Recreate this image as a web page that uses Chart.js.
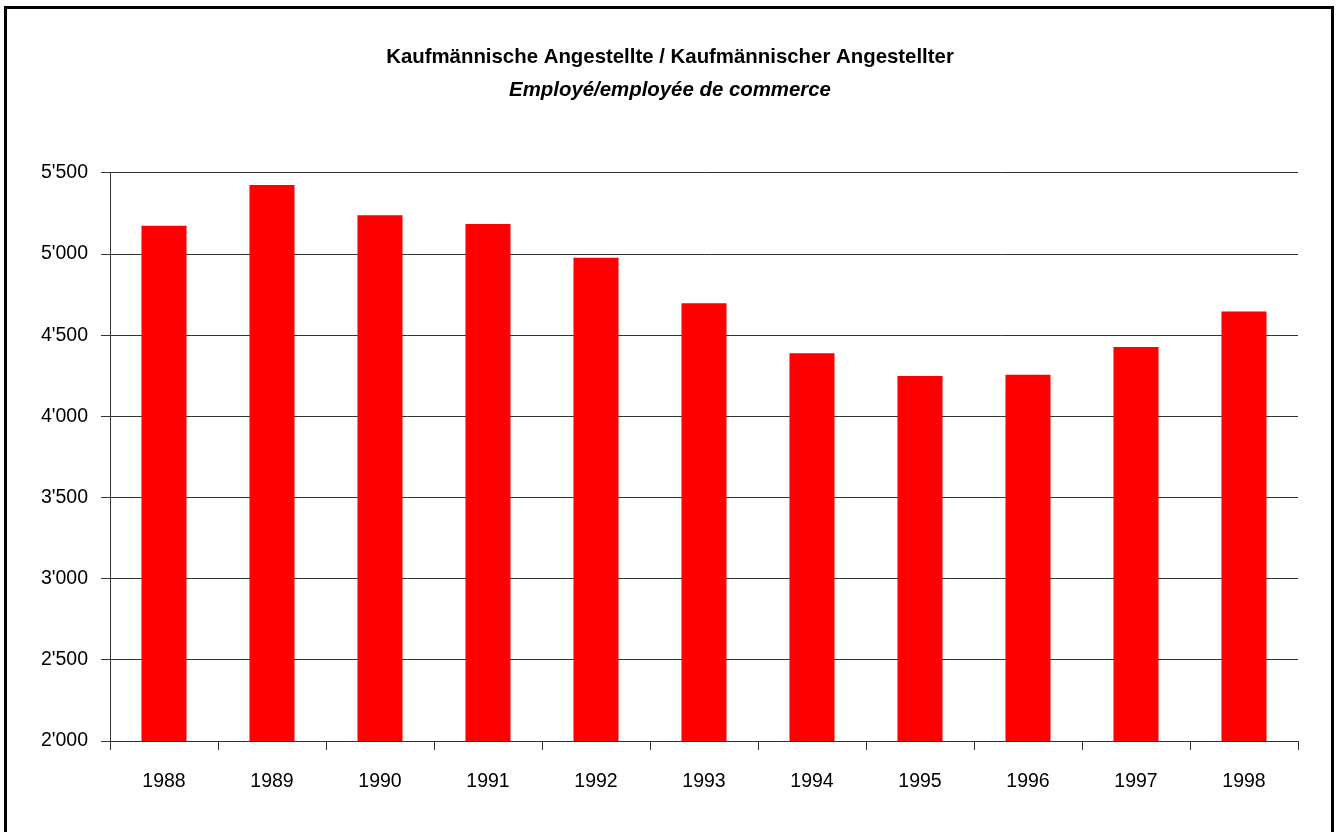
<!DOCTYPE html>
<html>
<head>
<meta charset="utf-8">
<script src="https://cdn.jsdelivr.net/npm/chart.js@4.4.1/dist/chart.umd.min.js"></script>
<style>
  html, body { margin: 0; padding: 0; background: #fff; overflow: hidden; }
  #wrap { position: relative; width: 1340px; height: 832px; }
  #frame { position: absolute; left: 4px; top: 6px; width: 1324px; height: 840px; border: 3px solid #000; pointer-events: none; }
  #chart { position: absolute; left: 0; top: 0; }
</style>
</head>
<body>
<div id="wrap">
  <canvas id="chart" width="1340" height="832"></canvas>
  <div id="frame"></div>
</div>
<script>
// data
const years = ['1988', '1989', '1990', '1991', '1992', '1993', '1994', '1995', '1996', '1997', '1998'];
const employees = [5175, 5426, 5240, 5185, 4977, 4697, 4389, 4249, 4257, 4428, 4646];
const yTicks = [2000, 2500, 3000, 3500, 4000, 4500, 5000, 5500];
const titleText = 'Kaufmännische Angestellte / Kaufmännischer Angestellter';
const subtitleText = 'Employé/employée de commerce';

const fontFamily = '"Liberation Sans Narrow", "Arial Narrow", "Liberation Sans", Arial, sans-serif';

// thousands with an apostrophe, like 5'500
const formatNumber = v => String(v).replace(/\B(?=(\d{3})+(?!\d))/g, "'");

const canvas = document.getElementById('chart');
const context = canvas.getContext('2d');

new Chart(context, {
  type: 'bar',
  data: {
    labels: years,
    datasets: [
      {
        data: employees,
        backgroundColor: '#ff0000',
        borderWidth: 0,
        barPercentage: 0.417,
        categoryPercentage: 1,
        yAxisID: 'y',
      },
    ],
  },
  options: {
    responsive: false,
    animation: false,
    layout: { padding: 0 },
    plugins: {
      legend: { display: false },
      tooltip: { enabled: false },
      title: {
        display: true,
        text: titleText,
        color: '#000',
        font: { family: fontFamily, size: 20.4, weight: 'bold', lineHeight: 1.2 },
        padding: { top: 45, bottom: 0 },
      },
      subtitle: {
        display: true,
        text: subtitleText,
        color: '#000',
        font: { family: fontFamily, size: 20.4, weight: 'bold', style: 'italic', lineHeight: 1.2 },
        padding: { top: 8.5, bottom: 70.5 },
      },
    },
    scales: {
      x: {
        grid: {
          display: true,
          offset: true,
          drawOnChartArea: false,
          drawTicks: true,
          tickLength: 9,
          color: '#333',
        },
        border: { display: true, color: '#333', width: 1 },
        ticks: {
          color: '#000',
          padding: 20,
          maxRotation: 0,
          font: { family: fontFamily, size: 19.5 },
        },
        afterFit: scale => { scale.height = 91; },
      },
      y: {
        min: 2000,
        max: 5500,
        afterBuildTicks: scale => { scale.ticks = yTicks.map(v => ({ value: v })); },
        grid: {
          color: '#333',
          tickLength: 9,
          drawTicks: true,
        },
        border: { display: true, color: '#333', width: 1 },
        ticks: {
          color: '#000',
          padding: 13,
          font: { family: fontFamily, size: 19.5 },
          callback: value => formatNumber(value),
        },
        afterFit: scale => { scale.width = 110; },
      },
      // empty right margin so the titles stay centred on the whole page
      spacer: {
        type: 'linear',
        position: 'right',
        grid: { display: false },
        border: { display: false },
        ticks: { display: false },
        afterFit: scale => { scale.width = 42; },
      },
    },
  },
});
</script>
</body>
</html>
